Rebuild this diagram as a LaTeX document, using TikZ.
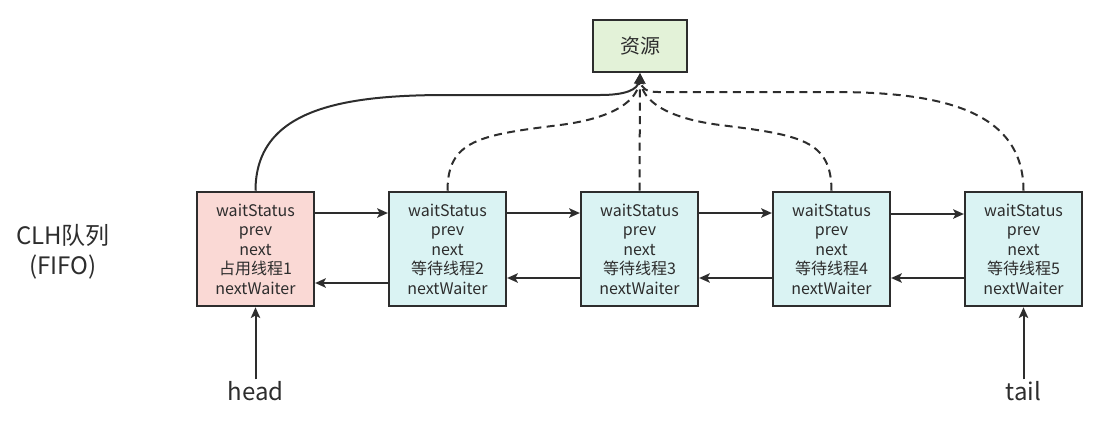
\documentclass[tikz,border=0pt]{standalone}
\usepackage{fontspec}
\setmainfont{Noto Sans CJK SC}
\usetikzlibrary{arrows.meta,calc}

\definecolor{lockpink}{RGB}{250,217,213}
\definecolor{waitcyan}{RGB}{218,243,243}
\definecolor{resgreen}{RGB}{227,242,216}
\definecolor{inkgrey}{RGB}{45,45,45}

\tikzset{every picture/.style={line width=0.75pt},
  qnode/.style={draw=inkgrey, line width=1.9pt, minimum width=87.5pt, minimum height=85.5pt, inner sep=0pt, align=center, text=inkgrey, font=\fontsize{12}{14.6}\selectfont},
  resbox/.style={draw=inkgrey, fill=resgreen, line width=1.9pt, minimum width=70.5pt, minimum height=39pt, text=inkgrey, font=\fontsize{15}{17}\selectfont},
  biglabel/.style={text=inkgrey, inner sep=1pt, font=\fontsize{18}{20}\selectfont},
  link/.style={draw=inkgrey, line width=1.5pt, -{Stealth[length=8pt,width=7pt,inset=1.8pt]}},
  waitlink/.style={link, dash pattern=on 6pt off 4pt}
}

\begin{document}
\begin{tikzpicture}[x=0.75pt,y=0.75pt,yscale=-1,xscale=1]
\useasboundingbox (0,0) rectangle (1096,422);

%Shape: Rectangle [resource]
\node [resbox] (res) at (640,46) {资源};

%Shape: Rectangle [queue nodes]
\node [qnode, fill=lockpink] (n1) at (255.5,249) {waitStatus\\prev\\next\\占用线程1\\nextWaiter};
\node [qnode, fill=waitcyan] (n2) at (447.5,249) {waitStatus\\prev\\next\\等待线程2\\nextWaiter};
\node [qnode, fill=waitcyan] (n3) at (639.5,249) {waitStatus\\prev\\next\\等待线程3\\nextWaiter};
\node [qnode, fill=waitcyan] (n4) at (831.5,249) {waitStatus\\prev\\next\\等待线程4\\nextWaiter};
\node [qnode, fill=waitcyan] (n5) at (1023.5,249) {waitStatus\\prev\\next\\等待线程5\\nextWaiter};

% Text Node
\node [text=inkgrey, align=center, font=\fontsize{18}{22.5}\selectfont] (clh) at (63,252) {CLH队列\\(FIFO)};
% Text Node
\node [biglabel] (head) at (255.5,391) {head};
% Text Node
\node [biglabel] (tail) at (1023.5,391) {tail};

%Straight Lines [next]
\draw [link] ($(n1.east)+(0,-36)$) -- ($(n2.west)+(0,-36)$);
\draw [link] ($(n2.east)+(0,-36)$) -- ($(n3.west)+(0,-36)$);
\draw [link] ($(n3.east)+(0,-36)$) -- ($(n4.west)+(0,-36)$);
\draw [link] ($(n4.east)+(0,-35)$) -- ($(n5.west)+(0,-35)$);

%Straight Lines [prev]
\draw [link] ($(n2.west)+(0,34)$) -- ($(n1.east)+(0,34)$);
\draw [link] ($(n3.west)+(0,29)$) -- ($(n2.east)+(0,29)$);
\draw [link] ($(n4.west)+(0,29)$) -- ($(n3.east)+(0,29)$);
\draw [link] ($(n5.west)+(0,29)$) -- ($(n4.east)+(0,29)$);

%Curve Lines [to resource]
\draw [link] (n1.north) .. controls (255.5,110) and (340,95) .. (447,95) -- (600,95) .. controls (625,95) and (638,90) .. (res.south);
\draw [waitlink] (n2.north) .. controls (447.5,140) and (480,135) .. (560,125) .. controls (615,118) and (638,100) .. (res.south);
\draw [waitlink] (n3.north) -- (res.south);
\draw [waitlink] (n4.north) .. controls (831.5,140) and (800,135) .. (720,125) .. controls (665,118) and (642,100) .. (res.south);
\draw [waitlink] (n5.north) .. controls (1023.5,110) and (940,92) .. (833,92) -- (658,92) .. controls (646,92) and (641,88) .. (res.south);

%Straight Lines [head, tail]
\draw [link] (head.north) -- (n1.south);
\draw [link] (tail.north) -- (n5.south);

\end{tikzpicture}
\end{document}
